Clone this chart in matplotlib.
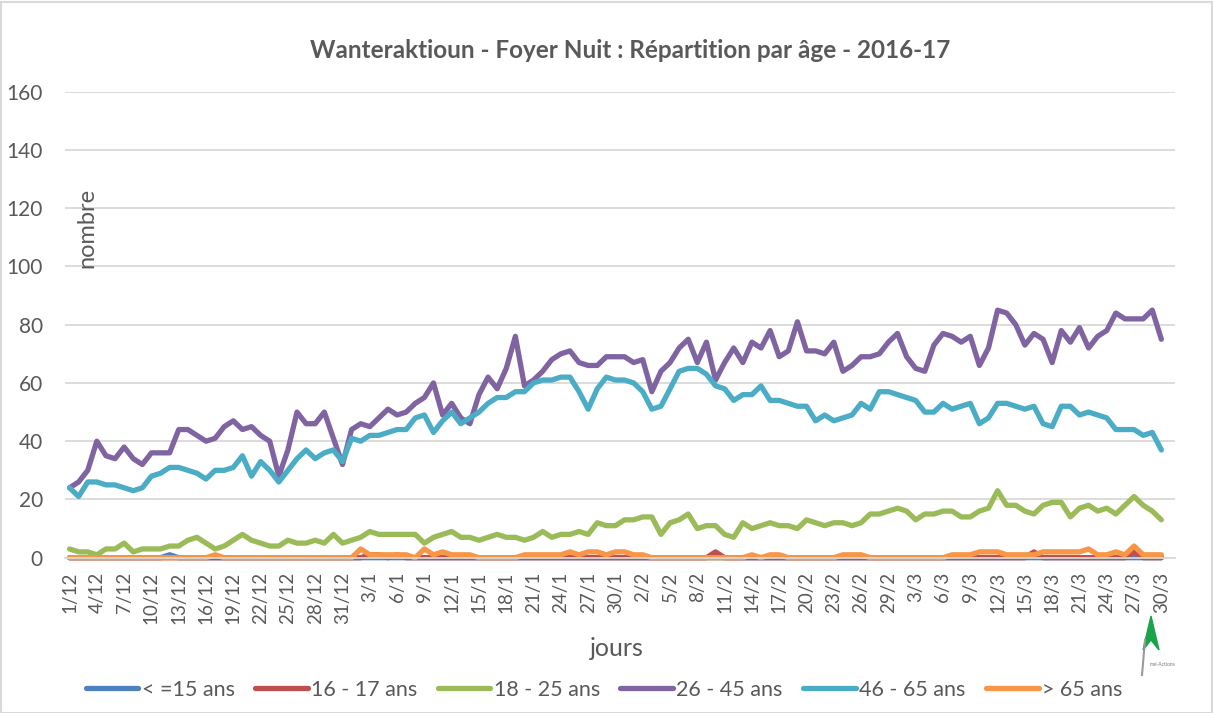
import matplotlib
matplotlib.use('Agg')
import matplotlib.pyplot as plt
from matplotlib.lines import Line2D
from matplotlib.patches import Polygon, Rectangle

plt.rcParams['font.family'] = ['Lato', 'DejaVu Sans']

# jours (1/12 -> 30/3, fevrier saisi avec 29 jours)
mois = [('12', 31), ('1', 31), ('2', 29), ('3', 30)]
jours = ['%d/%s' % (d, m) for m, n in mois for d in range(1, n + 1)]

noms = ['< =15 ans', '16 - 17 ans', '18 - 25 ans', '26 - 45 ans', '46 - 65 ans', '> 65 ans']
couleurs = ['#4F81BD', '#C0504D', '#9BBB59', '#8064A2', '#4BACC6', '#F79646']

age_26_45 = [24, 26, 30, 40, 35, 34, 38, 34, 32, 36,
             36, 36, 44, 44, 42, 40, 41, 45, 47, 44,
             45, 42, 40, 28, 37, 50, 46, 46, 50, 41,
             32, 44, 46, 45, 48, 51, 49, 50, 53, 55,
             60, 49, 53, 48, 46, 56, 62, 58, 65, 76,
             59, 61, 64, 68, 70, 71, 67, 66, 66, 69,
             69, 69, 67, 68, 57, 64, 67, 72, 75, 67,
             74, 61, 67, 72, 67, 74, 72, 78, 69, 71,
             81, 71, 71, 70, 74, 64, 66, 69, 69, 70,
             74, 77, 69, 65, 64, 73, 77, 76, 74, 76,
             66, 72, 85, 84, 80, 73, 77, 75, 67, 78,
             74, 79, 72, 76, 78, 84, 82, 82, 82, 85,
             75]

age_46_65 = [24, 21, 26, 26, 25, 25, 24, 23, 24, 28,
             29, 31, 31, 30, 29, 27, 30, 30, 31, 35,
             28, 33, 30, 26, 30, 34, 37, 34, 36, 37,
             33, 41, 40, 42, 42, 43, 44, 44, 48, 49,
             43, 47, 50, 46, 48, 50, 53, 55, 55, 57,
             57, 60, 61, 61, 62, 62, 57, 51, 58, 62,
             61, 61, 60, 57, 51, 52, 58, 64, 65, 65,
             63, 59, 58, 54, 56, 56, 59, 54, 54, 53,
             52, 52, 47, 49, 47, 48, 49, 53, 51, 57,
             57, 56, 55, 54, 50, 50, 53, 51, 52, 53,
             46, 48, 53, 53, 52, 51, 52, 46, 45, 52,
             52, 49, 50, 49, 48, 44, 44, 44, 42, 43,
             37]

age_18_25 = [3, 2, 2, 1, 3, 3, 5, 2, 3, 3,
             3, 4, 4, 6, 7, 5, 3, 4, 6, 8,
             6, 5, 4, 4, 6, 5, 5, 6, 5, 8,
             5, 6, 7, 9, 8, 8, 8, 8, 8, 5,
             7, 8, 9, 7, 7, 6, 7, 8, 7, 7,
             6, 7, 9, 7, 8, 8, 9, 8, 12, 11,
             11, 13, 13, 14, 14, 8, 12, 13, 15, 10,
             11, 11, 8, 7, 12, 10, 11, 12, 11, 11,
             10, 13, 12, 11, 12, 12, 11, 12, 15, 15,
             16, 17, 16, 13, 15, 15, 16, 16, 14, 14,
             16, 17, 23, 18, 18, 16, 15, 18, 19, 19,
             14, 17, 18, 16, 17, 15, 18, 21, 18, 16,
             13]

age_65_plus = [0, 0, 0, 0, 0, 0, 0, 0, 0, 0,
               0, 0, 0, 0, 0, 0, 1, 0, 0, 0,
               0, 0, 0, 0, 0, 0, 0, 0, 0, 0,
               0, 0, 3, 1, 1, 1, 1, 1, 0, 3,
               1, 2, 1, 1, 1, 0, 0, 0, 0, 0,
               1, 1, 1, 1, 1, 2, 1, 2, 2, 1,
               2, 2, 1, 1, 0, 0, 0, 0, 0, 0,
               0, 0, 0, 0, 0, 1, 0, 1, 1, 0,
               0, 0, 0, 0, 0, 1, 1, 1, 0, 0,
               0, 0, 0, 0, 0, 0, 0, 1, 1, 1,
               2, 2, 2, 1, 1, 1, 1, 2, 2, 2,
               2, 2, 3, 1, 1, 2, 1, 4, 1, 1,
               1]

age_16_17 = [0] * 121
for i, v in [(33, 1), (34, 1), (36, 1), (71, 2), (106, 2), (117, 2)]:
    age_16_17[i] = v

age_15_moins = [0] * 121
age_15_moins[11] = 1

series = [age_15_moins, age_16_17, age_18_25, age_26_45, age_46_65, age_65_plus]

W, H = 1213, 713
fig = plt.figure(figsize=(W / 100, H / 100), dpi=100)
ax = fig.add_axes([65 / W, 1 - 557.7 / H, 1110 / W, 466 / H])

x = list(range(len(jours)))
for s, c in zip(series, couleurs):
    ax.plot(x, s, color=c, lw=3.8, solid_joinstyle='round', solid_capstyle='round', clip_on=False)

ax.set_xlim(-0.5, len(jours) + 0.5)
ax.set_ylim(0, 160)
ax.set_yticks(range(0, 161, 20))
ax.set_xticks(x[::3])
ax.set_xticklabels(jours[::3], rotation=90, va='top', ha='center')
ax.tick_params(axis='both', length=0, labelsize=13.5, labelcolor='#595959')
ax.tick_params(axis='x', pad=10)
ax.tick_params(axis='y', pad=16, labelsize=15)
ax.yaxis.grid(True, color='#d9d9d9', lw=1.3)
ax.set_axisbelow(True)
for sp in ['top', 'right', 'left']:
    ax.spines[sp].set_visible(False)
ax.spines['bottom'].set_color('#d9d9d9')
ax.spines['bottom'].set_linewidth(1.3)

fig.text(630 / W, 1 - 51 / H, 'Wanteraktioun - Foyer Nuit : Répartition par âge - 2016-17',
         ha='center', va='center', fontsize=17.5, fontweight='bold', color='#595959')
fig.text(87 / W, 1 - 228 / H, 'nombre', rotation=90, ha='center', va='center',
         fontsize=17, color='#595959')
fig.text(617 / W, 1 - 648 / H, 'jours', ha='center', va='center', fontsize=18, color='#595959')

handles = [Line2D([], [], color=c, lw=3.8, solid_capstyle='round') for c in couleurs]
fig.legend(handles, noms, loc='center', bbox_to_anchor=(604 / W, 1 - 690 / H), ncol=6,
           frameon=False, fontsize=15.5, handlelength=2.45, handletextpad=0.15,
           columnspacing=0.95, labelcolor='#595959')

# petit logo en bas a droite
fig.patches.append(Polygon([[1143 / W, 1 - 650 / H], [1151 / W, 1 - 616 / H],
                            [1159 / W, 1 - 650 / H], [1151 / W, 1 - 640 / H]],
                           closed=True, transform=fig.transFigure, color='#1aa34a'))
fig.lines.append(Line2D([1142 / W, 1145 / W], [1 - 675 / H, 1 - 640 / H],
                        transform=fig.transFigure, color='#9a9a9a', lw=1.5))
fig.text(1150 / W, 1 - 666 / H, 'mai-Actions', fontsize=3.5, color='#777777')

fig.patches.append(Rectangle((0.5 / W, 0.5 / H), 1 - 2 / W, 1 - 2 / H, transform=fig.transFigure,
                             fill=False, edgecolor='#d9d9d9', lw=1.5))

fig.savefig('out.png', dpi=100)
